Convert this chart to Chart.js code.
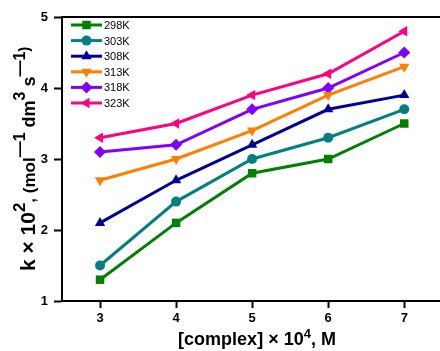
<!DOCTYPE html>
<html>
<head>
<meta charset="utf-8">
<script src="https://cdn.jsdelivr.net/npm/chart.js@4"></script>
<style>
  html, body { margin:0; padding:0; background:#fff; }
  canvas { display:block; }
</style>
</head>
<body>
<canvas id="kChart" width="440" height="351"></canvas>
<script>
// ---- DATA ----
const conc = [3, 4, 5, 6, 7];
const xTicks = [3, 4, 5, 6, 7];
const yTicks = [1, 2, 3, 4, 5];
const temps = ['298K', '303K', '308K', '313K', '318K', '323K'];
const k298 = [1.3, 2.1, 2.8, 3.0, 3.5];
const k303 = [1.5, 2.4, 3.0, 3.3, 3.7];
const k308 = [2.1, 2.7, 3.2, 3.7, 3.9];
const k313 = [2.7, 3.0, 3.4, 3.9, 4.3];
const k318 = [3.1, 3.2, 3.7, 4.0, 4.5];
const k323 = [3.3, 3.5, 3.9, 4.2, 4.8];

const series = [k298, k303, k308, k313, k318, k323];
const colors = ['#008000', '#008080', '#000099', '#FF8000', '#8000FF', '#FF0080'];
const shapes = ['rect', 'circle', 'triangle', 'triangle', 'rectRot', 'triangle'];
const rots = [0, 0, 0, 180, 0, -90];
const radii = [6, 5, 6, 6, 6, 6];

const FONT = '"Liberation Sans", Arial, sans-serif';

// draw a marker (legend only)
function marker(ctx, shape, rot, r, x, y, color) {
  ctx.save();
  ctx.translate(x, y);
  ctx.rotate(rot * Math.PI / 180);
  ctx.fillStyle = color;
  ctx.beginPath();
  if (shape === 'rect') {
    const s = r * Math.SQRT1_2;
    ctx.rect(-s, -s, 2*s, 2*s);
  } else if (shape === 'circle') {
    ctx.arc(0, 0, r, 0, Math.PI*2);
  } else if (shape === 'rectRot') {
    ctx.moveTo(0, -r); ctx.lineTo(r, 0); ctx.lineTo(0, r); ctx.lineTo(-r, 0);
  } else {
    const edge = 3 * r / Math.sqrt(3), h = edge * Math.sqrt(3) / 2;
    ctx.moveTo(-edge/2, h/3); ctx.lineTo(edge/2, h/3); ctx.lineTo(0, -2*h/3);
  }
  ctx.closePath();
  ctx.fill();
  ctx.restore();
}

// rich text: [text, size, raise]
function richText(ctx, parts, x, y, align) {
  let total = 0;
  parts.forEach(p => { ctx.font = 'bold ' + p[1] + 'px ' + FONT; total += ctx.measureText(p[0]).width; });
  let cx = align === 'center' ? x - total/2 : x;
  ctx.textAlign = 'left';
  ctx.textBaseline = 'alphabetic';
  parts.forEach(p => {
    ctx.font = 'bold ' + p[1] + 'px ' + FONT;
    ctx.fillText(p[0], cx, y - p[2]);
    cx += ctx.measureText(p[0]).width;
  });
}

const extras = {
  id: 'extras',
  afterDraw(chart) {
    const ctx = chart.ctx, a = chart.chartArea;
    ctx.save();
    // top frame line
    ctx.strokeStyle = '#000'; ctx.lineWidth = 2;
    ctx.beginPath(); ctx.moveTo(a.left, a.top); ctx.lineTo(a.right + 2, a.top); ctx.stroke();

    // legend
    temps.forEach((t, i) => {
      const y = 25 + i * 15.6;
      ctx.strokeStyle = colors[i]; ctx.lineWidth = 3;
      ctx.beginPath(); ctx.moveTo(71, y); ctx.lineTo(102, y); ctx.stroke();
      marker(ctx, shapes[i], rots[i], radii[i], 86.5, y, colors[i]);
      ctx.fillStyle = '#000';
      ctx.font = '11px ' + FONT;
      ctx.textAlign = 'left';
      ctx.textBaseline = 'middle';
      ctx.fillText(t, 104, y + 1);
    });

    // axis titles
    ctx.fillStyle = '#000';
    richText(ctx, [['[complex] × 10', 18, 0], ['4', 13, 7], [', M', 18, 0]], 257, 345, 'center');

    ctx.save();
    ctx.translate(35, (a.top + a.bottom) / 2);
    ctx.rotate(-Math.PI / 2);
    richText(ctx, [
      ['k × 10', 21, 0], ['2', 17, 10], [', (mol', 17, 0], ['\u20141', 16, 10],
      [' dm', 18, 0], ['3', 16, 10], [' s', 18, 0], ['\u20141', 16, 10], [')', 14, 6]
    ], 0, 0, 'center');
    ctx.restore();
    ctx.restore();
  }
};

const datasets = series.map((d, i) => ({
  label: temps[i],
  data: d.map((v, j) => ({ x: conc[j], y: v })),
  borderColor: colors[i],
  backgroundColor: colors[i],
  borderWidth: 3,
  pointStyle: shapes[i],
  rotation: rots[i],
  pointRadius: radii[i],
  pointBorderWidth: 0,
  tension: 0
}));

new Chart(document.getElementById('kChart'), {
  type: 'line',
  data: { datasets },
  options: {
    responsive: false,
    animation: false,
    layout: { autoPadding: false, padding: { top: 17, right: 0, left: 0, bottom: 0 } },
    plugins: { legend: { display: false }, tooltip: { enabled: false } },
    scales: {
      x: {
        type: 'linear', min: 2.5, max: 7.47,
        afterBuildTicks: s => { s.ticks = xTicks.map(v => ({ value: v })); },
        afterFit: s => { s.height = 50; s.paddingLeft = 0; s.paddingRight = 0; },
        grid: { drawOnChartArea: false, drawTicks: true, tickLength: 7, tickWidth: 2, tickColor: '#000' },
        border: { display: true, color: '#000', width: 2 },
        ticks: { color: '#000', padding: 3, font: { family: FONT, size: 13, weight: 'bold' } }
      },
      y: {
        type: 'linear', min: 1, max: 5,
        afterBuildTicks: s => { s.ticks = yTicks.map(v => ({ value: v })); },
        afterFit: s => { s.width = 62; s.paddingTop = 0; s.paddingBottom = 0; },
        grid: { drawOnChartArea: false, drawTicks: true, tickLength: 8, tickWidth: 2, tickColor: '#000' },
        border: { display: true, color: '#000', width: 2 },
        ticks: { color: '#000', padding: 6, font: { family: FONT, size: 13, weight: 'bold' } }
      }
    }
  },
  plugins: [extras]
});
</script>
</body>
</html>
